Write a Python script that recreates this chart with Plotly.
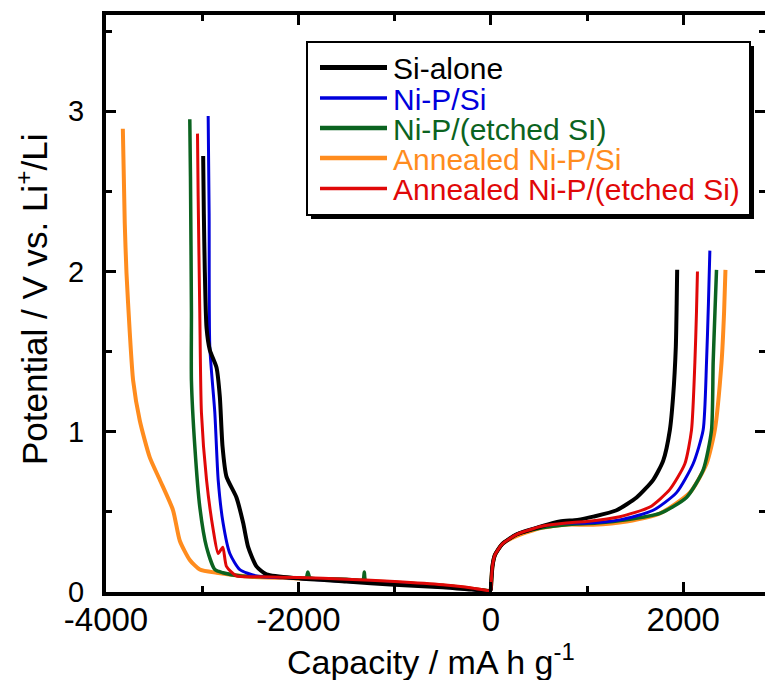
import plotly.graph_objects as go

# ---------------- data ----------------
names = ["Si-alone", "Ni-P/Si", "Ni-P/(etched SI)", "Annealed Ni-P/Si", "Annealed Ni-P/(etched Si)"]
colors = ["#000000", "#0000dc", "#0b6320", "#ff8c1e", "#e00808"]
widths = [4.0, 3.0, 3.5, 4.0, 3.0]

# charge branch (positive capacity), mA h g-1 / V
si_chg_x = [0, 17, 42, 120, 270, 530, 717, 900, 1064, 1307, 1515, 1688, 1792, 1861, 1895, 1923, 1932, 1937]
si_chg_y = [0.01, 0.16, 0.23, 0.30, 0.36, 0.41, 0.44, 0.45, 0.47, 0.51, 0.59, 0.70, 0.82, 1.01, 1.22, 1.53, 1.80, 2.01]

nip_chg_x = [0, 17, 42, 120, 270, 530, 785, 1000, 1341, 1688, 1930, 2103, 2207, 2242, 2262, 2277]
nip_chg_y = [0.01, 0.16, 0.23, 0.30, 0.36, 0.41, 0.43, 0.43, 0.45, 0.51, 0.62, 0.80, 1.01, 1.43, 1.80, 2.13]

nipe_chg_x = [0, 17, 42, 120, 270, 530, 785, 1100, 1411, 1757, 2034, 2207, 2294, 2311, 2330, 2346]
nipe_chg_y = [0.01, 0.16, 0.23, 0.30, 0.36, 0.40, 0.42, 0.43, 0.45, 0.49, 0.59, 0.76, 1.01, 1.43, 1.75, 2.01]

anip_chg_x = [0, 17, 42, 120, 270, 530, 785, 1064, 1411, 1757, 2069, 2242, 2328, 2398, 2425, 2439]
anip_chg_y = [0.01, 0.16, 0.23, 0.30, 0.35, 0.40, 0.42, 0.42, 0.44, 0.49, 0.62, 0.80, 1.01, 1.43, 1.75, 2.01]

anipe_chg_x = [0, 17, 42, 120, 270, 530, 785, 995, 1341, 1653, 1861, 2017, 2086, 2121, 2138, 2148]
anipe_chg_y = [0.01, 0.16, 0.23, 0.30, 0.36, 0.41, 0.43, 0.44, 0.47, 0.53, 0.64, 0.80, 1.01, 1.43, 1.75, 2.00]

# discharge branch (negative capacity)
si_dis_x = [0, -200, -500, -1000, -1500, -2000, -2332, -2436, -2522, -2574, -2644, -2748, -2789, -2817, -2851, -2921, -2955, -2973, -2983, -2990]
si_dis_y = [0.005, 0.015, 0.03, 0.045, 0.065, 0.085, 0.11, 0.16, 0.28, 0.43, 0.59, 0.72, 0.91, 1.22, 1.40, 1.51, 1.65, 2.01, 2.36, 2.72]

nip_dis_x = [0, -200, -500, -1000, -1500, -2000, -2436, -2609, -2713, -2783, -2834, -2869, -2921, -2928, -2938]
nip_dis_y = [0.005, 0.015, 0.03, 0.05, 0.065, 0.085, 0.10, 0.14, 0.24, 0.43, 0.70, 1.12, 1.53, 2.36, 2.97]

nipe_dis_x = [0, -200, -500, -1000, -1300, -1315, -1330, -1500, -1880, -1902, -1920, -2200, -2600, -2786, -2869, -2955, -3025, -3077, -3112, -3112, -3122, -3129]
nipe_dis_y = [0.005, 0.02, 0.04, 0.06, 0.07, 0.125, 0.075, 0.08, 0.09, 0.125, 0.09, 0.095, 0.10, 0.12, 0.14, 0.28, 0.53, 0.91, 1.32, 1.74, 2.59, 2.95]

anip_dis_x = [0, -200, -500, -1000, -1500, -2000, -2500, -2851, -3025, -3129, -3233, -3303, -3441, -3545, -3649, -3718, -3753, -3787, -3805, -3825]
anip_dis_y = [0.005, 0.02, 0.04, 0.06, 0.075, 0.085, 0.095, 0.12, 0.14, 0.20, 0.32, 0.51, 0.70, 0.84, 1.07, 1.32, 1.62, 1.99, 2.30, 2.89]

anipe_dis_x = [0, -200, -500, -1000, -1500, -2000, -2400, -2644, -2748, -2786, -2834, -2886, -2955, -3008, -3025, -3042, -3049]
anipe_dis_y = [0.005, 0.025, 0.045, 0.065, 0.08, 0.09, 0.095, 0.10, 0.16, 0.28, 0.24, 0.39, 0.70, 1.12, 1.74, 2.47, 2.86]

charge = [(si_chg_x, si_chg_y), (nip_chg_x, nip_chg_y), (nipe_chg_x, nipe_chg_y),
          (anip_chg_x, anip_chg_y), (anipe_chg_x, anipe_chg_y)]
discharge = [(si_dis_x, si_dis_y), (nip_dis_x, nip_dis_y), (nipe_dis_x, nipe_dis_y),
             (anip_dis_x, anip_dis_y), (anipe_dis_x, anipe_dis_y)]

x_ticks = [-4000, -2000, 0, 2000]
y_ticks = [0, 1, 2, 3]

x_title = "Capacity / mA h g<sup>-1</sup>"
y_title = "Potential / V vs. Li<sup>+</sup>/Li"

# ---------------- figure ----------------
# the page body adds an 8 px margin all round; keep the figure inside the window
OFF = 8
W, H = 773 - 2 * OFF, 688 - 2 * OFF
ML, MR, MT = 106 - OFF, 0, 15 - OFF
MB = H - (592 - OFF)
FONT = "Liberation Sans, Arial, Helvetica, sans-serif"
Y_RANGE = [0, 3.6]
X_RANGE = [-4000, 2850]

fig = go.Figure()
draw_order = [3, 2, 1, 0, 4]
for i in draw_order:
    for (xs, ys) in (discharge[i], charge[i]):
        fig.add_trace(go.Scatter(x=xs, y=ys, mode="lines", name=names[i],
                                 line=dict(color=colors[i], width=widths[i], shape="spline", smoothing=0.6),
                                 showlegend=False))

tick_common = dict(ticks="inside", ticklen=10, tickwidth=3, tickcolor="black",
                   showgrid=False, zeroline=False, automargin=False)
fig.update_layout(
    xaxis=dict(range=X_RANGE, tickvals=x_ticks, ticktext=[str(v) for v in x_ticks],
               showline=True, linecolor="black", linewidth=4, mirror="ticks",
               minor=dict(dtick=1000, tick0=0, ticks="inside", ticklen=6, tickwidth=3, tickcolor="black"),
               ticklabelstandoff=-5, tickfont=dict(family=FONT, size=33, color="black"),
               **tick_common),
    yaxis=dict(range=Y_RANGE, tickvals=y_ticks, ticktext=[str(v) for v in y_ticks],
               showline=True, linecolor="black", linewidth=4, mirror=False,
               minor=dict(dtick=0.5, tick0=0, ticks="inside", ticklen=6, tickwidth=3, tickcolor="black"),
               ticklabelstandoff=12, tickfont=dict(family=FONT, size=29, color="black"),
               **tick_common),
    # right-hand ticks without a frame line (the reference frame sits past the picture edge)
    yaxis2=dict(range=Y_RANGE, overlaying="y", side="right", showline=False,
                tickvals=y_ticks, showticklabels=False,
                minor=dict(dtick=0.5, tick0=0, ticks="inside", ticklen=6, tickwidth=3, tickcolor="black"),
                **tick_common),
)
fig.add_trace(go.Scatter(x=[], y=[], yaxis="y2", showlegend=False, hoverinfo="skip"))

# ---------------- titles & hand-drawn legend box (screen pixels -> paper) ----------------
PW, PH = W - ML - MR, H - MT - MB
def px(x):
    return (x - OFF - ML) / PW
def py(y):
    return (H - MB - (y - OFF)) / PH

annotations = [
    dict(xref="paper", yref="paper", x=px(431), y=py(660), xanchor="center", yanchor="middle",
         showarrow=False, text=x_title, font=dict(family=FONT, size=34, color="black")),
    dict(xref="paper", yref="paper", x=px(32), y=py(300), xanchor="center", yanchor="middle",
         showarrow=False, textangle=-90, text=y_title, font=dict(family=FONT, size=35, color="black")),
]

shapes = []
shapes.append(dict(type="rect", xref="paper", yref="paper", x0=px(311), x1=px(754), y0=py(219), y1=py(46),
                   fillcolor="black", line=dict(width=0), layer="above"))
shapes.append(dict(type="rect", xref="paper", yref="paper", x0=px(307), x1=px(750), y0=py(215), y1=py(42),
                   fillcolor="white", line=dict(color="black", width=2), layer="above"))
row_y = [67.5, 98, 128, 158, 188.5]
sample_w = [5, 3.5, 4.5, 4.5, 3.5]
for i in range(5):
    shapes.append(dict(type="line", xref="paper", yref="paper", x0=px(320), x1=px(387),
                       y0=py(row_y[i]), y1=py(row_y[i]),
                       line=dict(color=colors[i], width=sample_w[i]), layer="above"))
    annotations.append(dict(xref="paper", yref="paper", x=px(391), y=py(row_y[i] + 1),
                            xanchor="left", yanchor="middle", showarrow=False,
                            text=names[i], font=dict(family=FONT, size=30, color=colors[i])))

fig.update_layout(width=W, height=H, margin=dict(l=ML, r=MR, t=MT, b=MB, autoexpand=False),
                  paper_bgcolor="white", plot_bgcolor="white",
                  shapes=shapes, annotations=annotations, showlegend=False)

fig.write_html("out.html")
